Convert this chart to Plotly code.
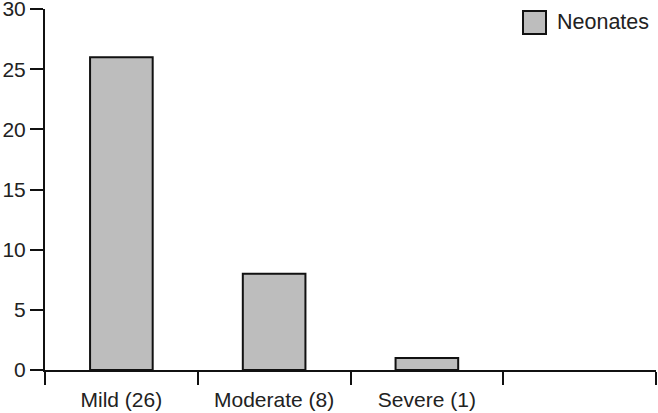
import plotly.graph_objects as go

categories = ["Mild (26)", "Moderate (8)", "Severe (1)"]
all_slots = ["Mild (26)", "Moderate (8)", "Severe (1)", " "]
neonates = [26, 8, 1]
y_ticks = [0, 5, 10, 15, 20, 25, 30]
series_name = "Neonates"

fig = go.Figure()
fig.add_trace(go.Bar(
    x=categories, y=neonates, name=series_name,
    width=0.41,
    marker=dict(color="#bdbdbd", line=dict(color="#111111", width=2)),
    showlegend=False,
))

font = dict(family="Liberation Sans, Arial, sans-serif", size=21, color="#222222")

fig.update_layout(
    width=658, height=413,
    margin=dict(l=45, r=2, t=9, b=43),
    paper_bgcolor="white", plot_bgcolor="white",
    font=font,
    xaxis=dict(
        type="category", categoryorder="array", categoryarray=all_slots,
        range=[-0.5, 3.5], tickson="boundaries", automargin=False,
        showline=True, linecolor="#111111", linewidth=2,
        ticks="outside", ticklen=13, tickwidth=2, tickcolor="#111111",
        tickfont=font, ticklabeloverflow="allow", ticklabelstandoff=10,
        showgrid=False, zeroline=False,
    ),
    yaxis=dict(
        range=[0, 30], tickvals=y_ticks, automargin=False,
        showline=True, linecolor="#111111", linewidth=2,
        ticks="outside", ticklen=13, tickwidth=2, tickcolor="#111111",
        tickfont=font, ticklabeloverflow="allow",
        showgrid=False, zeroline=False,
    ),
)

# legend box
fig.add_shape(type="rect", xref="paper", yref="paper",
              x0=(523-45)/611, x1=(546-45)/611,
              y0=(370-34)/361, y1=(370-11)/361,
              fillcolor="#bdbdbd", line=dict(color="#111111", width=2))
fig.add_annotation(xref="paper", yref="paper", x=(555-45)/611, y=(370-22)/361,
                   text=series_name, showarrow=False, xanchor="left", yanchor="middle",
                   font=dict(family="Liberation Sans, Arial, sans-serif", size=21.5, color="#222222"))

fig.write_html("out.html", config={"displayModeBar": False},
               post_script="document.body.style.margin='0';document.body.style.overflow='hidden';")
